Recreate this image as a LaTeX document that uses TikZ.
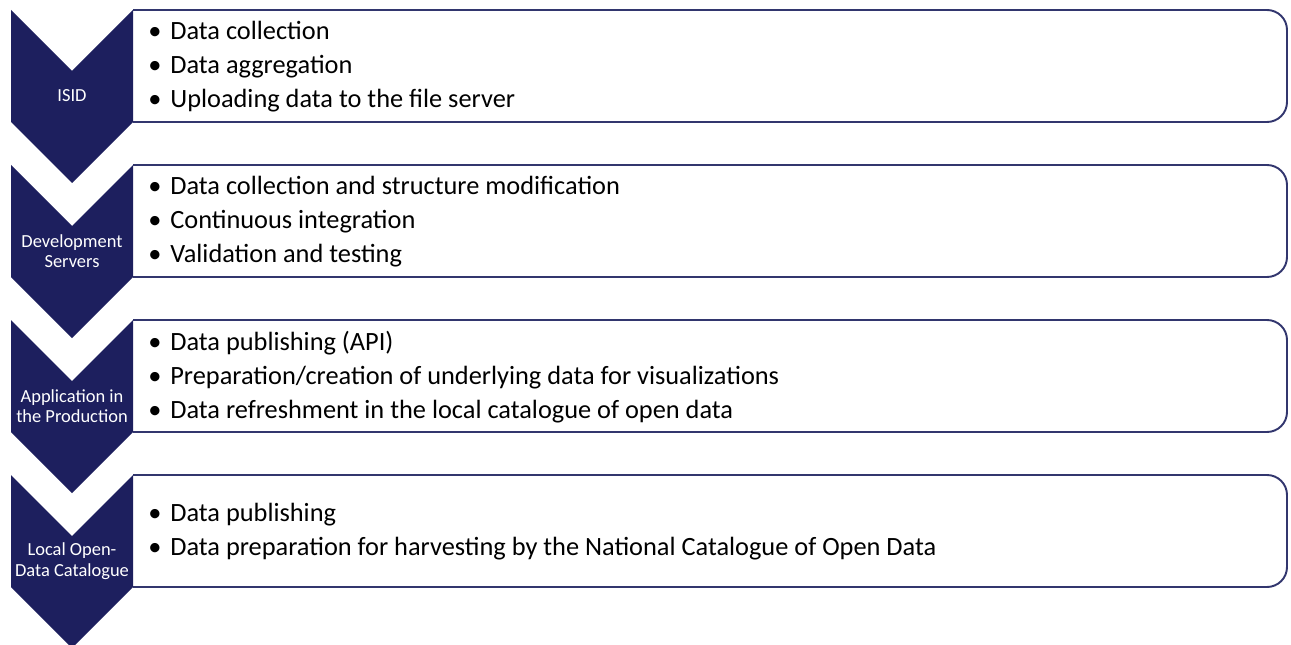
\documentclass[tikz,border=0pt]{standalone}
\usepackage{fontspec}
\setmainfont{Carlito}
\usetikzlibrary{positioning,calc}
\definecolor{navy}{RGB}{29,31,94}
\definecolor{rim}{RGB}{50,54,110}
\tikzset{
  stagelabel/.style={text=white,align=center,inner sep=0pt,
    font=\fontsize{10.5}{11.6}\selectfont},
  itemlist/.style={anchor=west,align=left,inner sep=0pt,
    font=\fontsize{15}{19.3}\selectfont},
  panel/.style={draw=rim,line width=1.1pt,rounded corners=0.4cm}
}
\newcommand{\itm}[1]{\makebox[0.44cm][l]{\textbullet}#1}
\begin{document}
\begin{tikzpicture}[x=0.02cm,y=-0.02cm]
  \useasboundingbox (0,0) rectangle (1291,645);
  % one stage: top y, name, chevron text, list
  \def\stage(#1)#2#3#4{
    \draw[panel] (133,#1) -| (1287,#1+112) -- (133,#1+112);
    \fill[navy] (11,#1) -- (72,#1+61) -- (133,#1) -- (133,#1+112)
      -- (72,#1+173) -- (11,#1+112) -- cycle;
    \node[stagelabel] (#2) at (72,#1+86) {#3};
    \node[itemlist] (#2list) at (148,#1+57) {#4};
  }
  \stage(10){isid}{ISID}{\itm{Data collection}\\
    \itm{Data aggregation}\\
    \itm{Uploading data to the file server}}
  \stage(165){devel}{Development\\Servers}{\itm{Data collection and structure modification}\\
    \itm{Continuous integration}\\
    \itm{Validation and testing}}
  \stage(320){prod}{Application in\\the Production}{\itm{Data publishing (API)}\\
    \itm{Preparation/creation of underlying data for visualizations}\\
    \itm{Data refreshment in the local catalogue of open data}}
  \stage(475){catalog}{Local Open-\\Data Catalogue}{\itm{Data publishing}\\
    \itm{Data preparation for harvesting by the National Catalogue of Open Data}}
\end{tikzpicture}
\end{document}
